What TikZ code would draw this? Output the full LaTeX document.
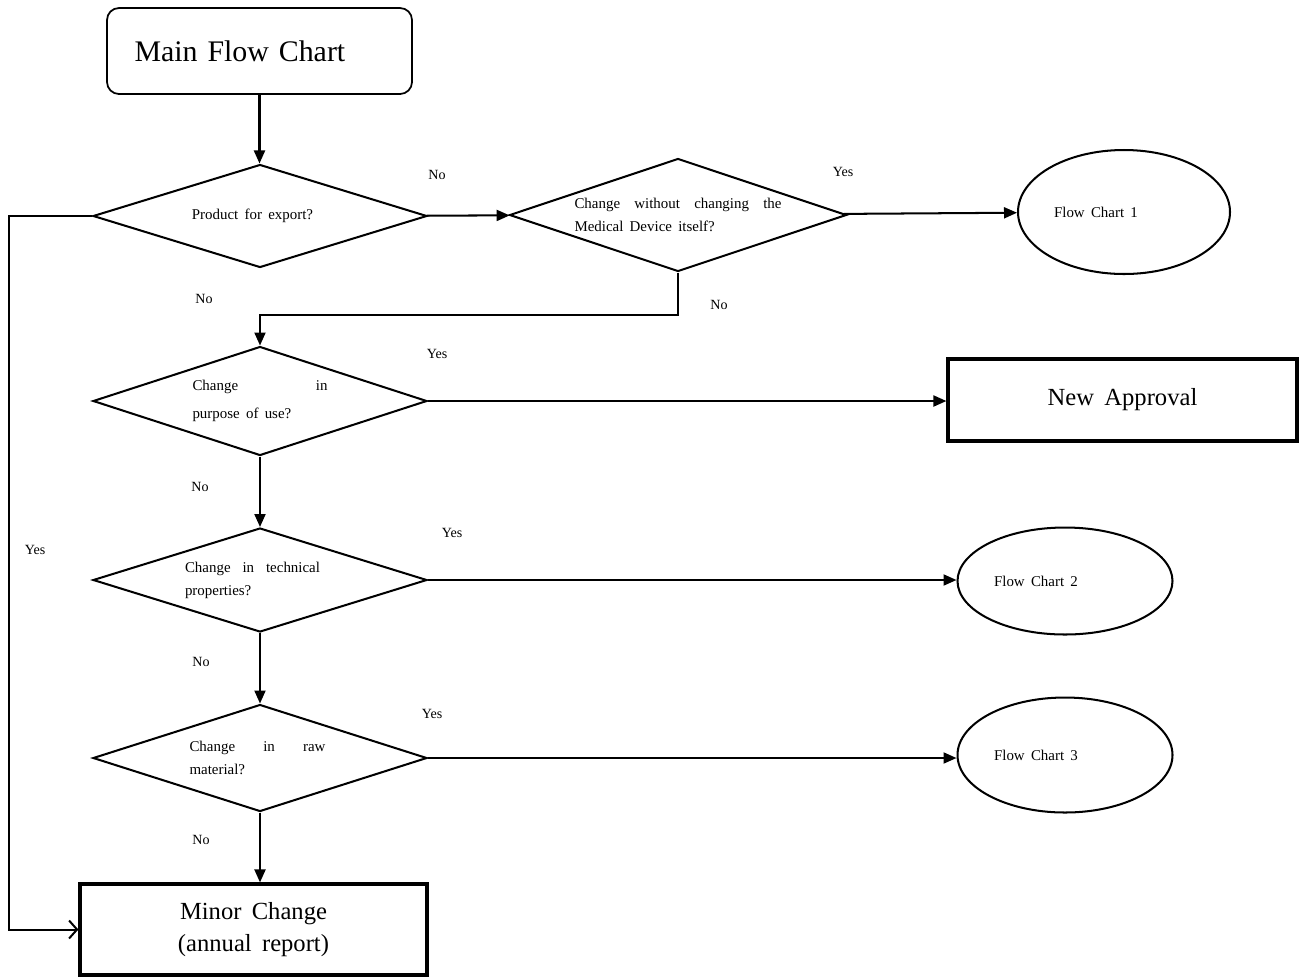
\documentclass[tikz,border=0pt]{standalone}
\usepackage{fontspec}
\setmainfont{Liberation Serif}
\usetikzlibrary{shapes.geometric,arrows.meta}

\newcommand{\widesp}{\spaceskip=0.42em plus 0.1em\relax}
\newcommand{\smalltxt}{\fontsize{8.5}{13}\selectfont\widesp}
\newcommand{\spreadline}[2]{\makebox[#1][s]{#2}}
\newcommand{\padright}[1]{\rule{#1}{0pt}}

\begin{document}
\begin{tikzpicture}[>={Triangle[length=2.6mm,width=2.2mm]}, line width=1.15pt,
    decision/.style={diamond, draw, shape aspect=3.3, inner sep=0pt, minimum width=6.68cm, align=left, font=\smalltxt},
    chartlink/.style={ellipse, draw, inner sep=0pt, font=\smalltxt},
    resultbox/.style={rectangle, draw, line width=1.8pt, align=center, font=\fontsize{14}{18}\selectfont\widesp},
    answer/.style={font=\fontsize{8}{10}\selectfont}]
  \useasboundingbox (0,0) rectangle (25.98,-19.56);

  % Start
  \node[draw, line width=1pt, rounded corners=0.24cm, minimum width=6.1cm, minimum height=1.72cm, text width=5cm, align=left,
        font=\fontsize{17}{20}\selectfont\widesp] (main) at (5.19,-1.02) {Main Flow Chart};

  % Decisions
  \node[decision, minimum height=2.06cm] (export) at (5.2,-4.32) {Product for export?\padright{0.3cm}};
  \node[decision, minimum width=6.74cm, minimum height=2.26cm] (device) at (13.56,-4.3)
       {\spreadline{4.14cm}{Change without changing the}\\Medical Device itself?};
  \node[decision, minimum height=2.18cm] (purpose) at (5.2,-8.02) {\spreadline{2.7cm}{Change in}\\[3pt]purpose of use?};
  \node[decision, minimum height=2.08cm] (technical) at (5.2,-11.6) {\spreadline{2.7cm}{Change in technical}\padright{0.3cm}\\properties?};
  \node[decision, minimum height=2.14cm] (material) at (5.2,-15.16) {\spreadline{2.72cm}{Change in raw}\padright{0.1cm}\\material?};

  % Results
  \node[chartlink, minimum width=4.24cm, minimum height=2.48cm] (chart1) at (22.48,-4.24) {Flow Chart 1\padright{1.12cm}};
  \node[resultbox, minimum width=6.98cm, minimum height=1.64cm] (approval) at (22.45,-8.0) {New Approval};
  \node[chartlink, minimum width=4.3cm, minimum height=2.14cm] (chart2) at (21.3,-11.62) {Flow Chart 2\padright{1.16cm}};
  \node[chartlink, minimum width=4.3cm, minimum height=2.3cm] (chart3) at (21.3,-15.1) {Flow Chart 3\padright{1.16cm}};
  \node[resultbox, minimum width=6.94cm, minimum height=1.82cm] (minor) at (5.07,-18.59) {Minor Change\\(annual report)};

  % Arrows
  \draw[->] (main.south) -- (main.south |- export.north);
  \draw[->] (export) -- (device);
  \draw[->] (device) -- (chart1);
  \draw[->] (device.south) -- ++(0,-0.84) -| (purpose.north);
  \draw[->] (purpose.east) -- (purpose.east -| approval.west);
  \draw[->] (purpose) -- (technical);
  \draw[->] (technical.east) -- (technical.east -| chart2.west);
  \draw[->] (technical) -- (material);
  \draw[->] (material.east) -- (material.east -| chart3.west);
  \draw[->] (material.south) -- (material.south |- minor.north);
  \draw[-{Straight Barb[length=1.6mm,width=3.6mm]}] (export.west) -- ++(-1.66,0) |- (minor.west);

  % Labels
  \node[answer] (no1) at (8.74,-3.5) {No};
  \node[answer] (yes1) at (16.86,-3.44) {Yes};
  \node[answer] (no2) at (4.08,-5.98) {No};
  \node[answer] (no3) at (14.38,-6.1) {No};
  \node[answer] (yes2) at (8.74,-7.08) {Yes};
  \node[answer] (no4) at (4.0,-9.74) {No};
  \node[answer] (yes3) at (9.04,-10.66) {Yes};
  \node[answer] (no5) at (4.02,-13.24) {No};
  \node[answer] (yes4) at (8.64,-14.28) {Yes};
  \node[answer] (no6) at (4.02,-16.8) {No};
  \node[answer] (yes5) at (0.7,-11.0) {Yes};
\end{tikzpicture}
\end{document}
